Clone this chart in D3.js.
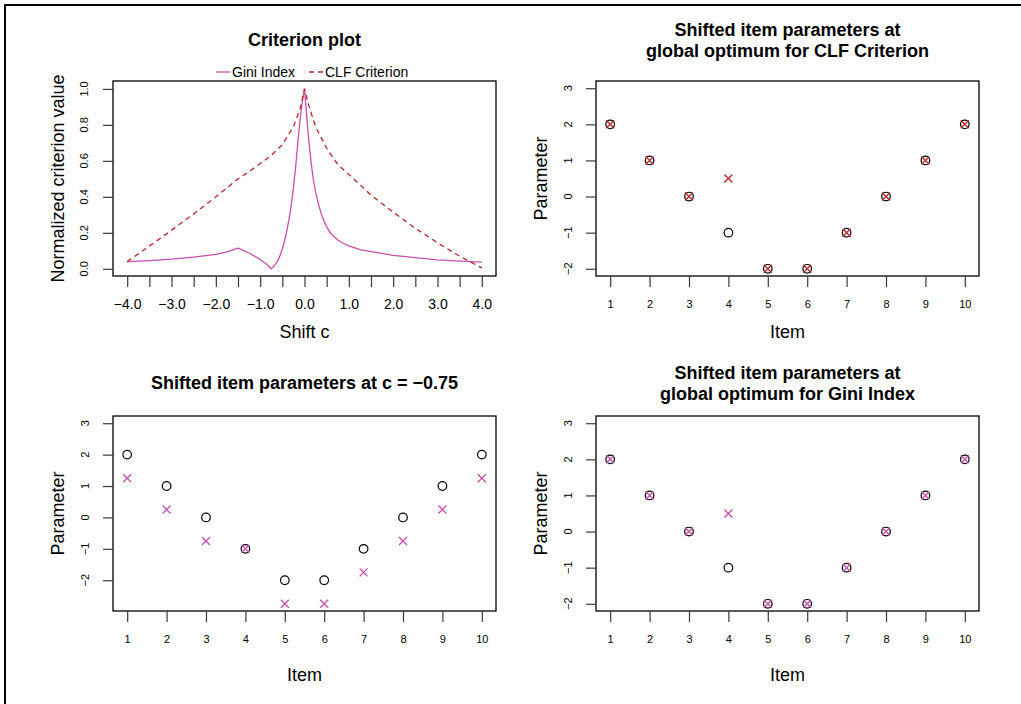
<!DOCTYPE html>
<html><head><meta charset="utf-8">
<script src="https://cdn.jsdelivr.net/npm/d3@7"></script>
<style>body{margin:0;background:#fff;} svg{display:block;font-family:"Liberation Sans",Arial,Helvetica,sans-serif;}</style>
</head><body>
<svg id="chart" width="1021" height="704"></svg>
<script>
// ---------- data ----------
const shiftC = [-4, -3.5, -3, -2.5, -2, -1.75, -1.5, -1.25, -1, -0.85, -0.75, -0.7, -0.65, -0.6, -0.55, -0.5, -0.45, -0.4,
                -0.35, -0.3, -0.25, -0.2, -0.15, -0.1, -0.075, -0.05, -0.025, 0,
                0.025, 0.05, 0.075, 0.1, 0.15, 0.2, 0.25, 0.3, 0.35, 0.4, 0.5, 0.6, 0.75, 0.9, 1, 1.25, 1.5, 2, 2.5, 3, 3.5, 4];
const giniValues = [0.040, 0.046, 0.054, 0.065, 0.080, 0.094, 0.115, 0.088, 0.052, 0.025, 0.000, 0.012, 0.027, 0.045, 0.075, 0.110, 0.155, 0.210,
                    0.275, 0.350, 0.450, 0.565, 0.705, 0.830, 0.880, 0.925, 0.965, 1.000,
                    0.925, 0.850, 0.775, 0.705, 0.590, 0.495, 0.428, 0.373, 0.328, 0.290, 0.232, 0.195, 0.160, 0.138, 0.127, 0.107, 0.095, 0.075, 0.062, 0.050, 0.043, 0.037];
const clfC = [-4, -3.5, -3, -2.5, -2, -1.5, -1.25, -1, -0.75, -0.5, -0.25, -0.1, 0, 0.1, 0.25, 0.5, 0.75, 1, 1.5, 2, 2.5, 3, 3.5, 4];
const clfValues = [0.040, 0.126, 0.215, 0.305, 0.400, 0.500, 0.540, 0.585, 0.630, 0.690, 0.790, 0.890, 1.000,
                   0.905, 0.790, 0.670, 0.580, 0.525, 0.410, 0.315, 0.225, 0.145, 0.070, 0.005];
const critTicks = [-4, -3.5, -3, -2.5, -2, -1.5, -1, -0.5, 0, 0.5, 1, 1.5, 2, 2.5, 3, 3.5, 4];
const critTickLabels = ["−4.0", "", "−3.0", "", "−2.0", "", "−1.0", "", "0.0", "", "1.0", "", "2.0", "", "3.0", "", "4.0"];
const critYTicks = [0, 0.2, 0.4, 0.6, 0.8, 1.0];
const critYLabels = ["0.0", "0.2", "0.4", "0.6", "0.8", "1.0"];

const items = [1, 2, 3, 4, 5, 6, 7, 8, 9, 10];
const originalParams = [2, 1, 0, -1, -2, -2, -1, 0, 1, 2];
const clfShifted = [2, 1, 0, 0.5, -2, -2, -1, 0, 1, 2];
const giniShifted = [2, 1, 0, 0.5, -2, -2, -1, 0, 1, 2];
const shiftedM075 = [1.25, 0.25, -0.75, -1, -2.75, -2.75, -1.75, -0.75, 0.25, 1.25];
const paramTicks = [-2, -1, 0, 1, 2, 3];
const paramTickLabels = ["−2", "−1", "0", "1", "2", "3"];

const legendLabels = ["Gini Index", "CLF Criterion"];
const titles = {
  crit: ["Criterion plot"],
  clf: ["Shifted item parameters at", "global optimum for CLF Criterion"],
  m075: ["Shifted item parameters at c = −0.75"],
  gini: ["Shifted item parameters at", "global optimum for Gini Index"]
};

// ---------- styles ----------
const MAGENTA = "#C64FAC";
const RED = "#B8262A";
const TICK = "#3a3a3a";

const svg = d3.select("#chart");
// outer frame
svg.append("rect").attr("x", 5).attr("y", 5).attr("width", 1030).attr("height", 720)
  .attr("fill", "none").attr("stroke", "#000").attr("stroke-width", 2);

function panel(box, xDom, yDom) {
  const x = d3.scaleLinear().domain(xDom).range([box.x0, box.x1]);
  const y = d3.scaleLinear().domain(yDom).range([box.y1, box.y0]);
  return {box, x, y};
}

function drawFrame(p) {
  svg.append("rect").attr("x", p.box.x0).attr("y", p.box.y0)
    .attr("width", p.box.x1 - p.box.x0).attr("height", p.box.y1 - p.box.y0)
    .attr("fill", "none").attr("stroke", "#000").attr("stroke-width", 1.3);
}

function drawXAxis(p, ticks, labels, fontSize, labelOffset) {
  const ax = d3.axisBottom(p.x).tickValues(ticks).tickSize(11).tickSizeOuter(0)
    .tickFormat((d, i) => labels[i]).tickPadding(labelOffset);
  const g = svg.append("g").attr("transform", `translate(0,${p.box.y1})`).call(ax);
  g.select(".domain").remove();
  g.selectAll(".tick line").attr("stroke", TICK).attr("stroke-width", 1.2);
  g.selectAll(".tick text").attr("font-size", fontSize).attr("fill", "#000")
    .attr("font-family", '"Liberation Sans",Arial,sans-serif');
}

function drawYAxis(p, ticks, labels, fontSize, labelX) {
  const ax = d3.axisLeft(p.y).tickValues(ticks).tickSize(10).tickSizeOuter(0).tickFormat(() => "");
  const g = svg.append("g").attr("transform", `translate(${p.box.x0},0)`).call(ax);
  g.select(".domain").remove();
  g.selectAll(".tick line").attr("stroke", TICK).attr("stroke-width", 1.2);
  ticks.forEach((t, i) => {
    svg.append("text").attr("transform", `translate(${labelX},${p.y(t)}) rotate(-90)`)
      .attr("text-anchor", "middle").attr("dominant-baseline", "central")
      .attr("font-size", fontSize).text(labels[i]);
  });
}

function drawTitle(p, lines, baselines) {
  const cx = (p.box.x0 + p.box.x1) / 2;
  lines.forEach((l, i) => {
    svg.append("text").attr("x", cx).attr("y", baselines[i]).attr("text-anchor", "middle")
      .attr("font-size", 18).attr("font-weight", "bold").text(l);
  });
}

function drawLabels(p, xl, xlY, yl, ylX) {
  const cx = (p.box.x0 + p.box.x1) / 2;
  const cy = (p.box.y0 + p.box.y1) / 2;
  svg.append("text").attr("x", cx).attr("y", xlY).attr("text-anchor", "middle").attr("font-size", 18).text(xl);
  svg.append("text").attr("transform", `translate(${ylX},${cy}) rotate(-90)`)
    .attr("text-anchor", "middle").attr("dominant-baseline", "central").attr("font-size", 18).text(yl);
}

function drawCircles(p, xs, ys) {
  svg.append("g").selectAll("circle").data(xs).join("circle")
    .attr("cx", (d) => p.x(d)).attr("cy", (d, i) => p.y(ys[i])).attr("r", 4.3)
    .attr("fill", "none").attr("stroke", "#000").attr("stroke-width", 1.2);
}

function drawCrosses(p, xs, ys, color) {
  const s = 4;
  svg.append("g").selectAll("path").data(xs).join("path")
    .attr("d", (d, i) => {
      const cx = p.x(d), cy = p.y(ys[i]);
      return `M${cx - s},${cy - s}L${cx + s},${cy + s}M${cx - s},${cy + s}L${cx + s},${cy - s}`;
    })
    .attr("fill", "none").attr("stroke", color).attr("stroke-width", 1.3);
}

// ---------- panel 1: criterion plot ----------
const p1 = panel({x0: 113, x1: 496, y0: 81, y1: 276}, [-4.32, 4.32], [-0.04, 1.044]);
const line1 = d3.line().x((d) => p1.x(d[0])).y((d) => p1.y(d[1]));
svg.append("path").datum(shiftC.map((c, i) => [c, giniValues[i]])).attr("d", line1)
  .attr("fill", "none").attr("stroke", MAGENTA).attr("stroke-width", 1.3).attr("stroke-linejoin", "round");
svg.append("path").datum(clfC.map((c, i) => [c, clfValues[i]])).attr("d", line1)
  .attr("fill", "none").attr("stroke", RED).attr("stroke-width", 1.3).attr("stroke-dasharray", "5,4");
drawFrame(p1);
drawXAxis(p1, critTicks, critTickLabels, 14, 12);
drawYAxis(p1, critYTicks, critYLabels, 11, 84);
drawTitle(p1, titles.crit, [46]);
drawLabels(p1, "Shift c", 338, "Normalized criterion value", 58);
// legend
const legend = svg.append("g");
legend.append("line").attr("x1", 216).attr("x2", 230).attr("y1", 72).attr("y2", 72)
  .attr("stroke", MAGENTA).attr("stroke-width", 1.3);
legend.append("text").attr("x", 232).attr("y", 77).attr("font-size", 14).text(legendLabels[0]);
legend.append("line").attr("x1", 309).attr("x2", 323).attr("y1", 72).attr("y2", 72)
  .attr("stroke", RED).attr("stroke-width", 1.3).attr("stroke-dasharray", "5,4");
legend.append("text").attr("x", 325).attr("y", 77).attr("font-size", 14).text(legendLabels[1]);

// ---------- panel 2: CLF optimum ----------
const p2 = panel({x0: 596, x1: 979, y0: 81, y1: 276}, [0.64, 10.36], [-2.2, 3.2]);
drawCircles(p2, items, originalParams);
drawCrosses(p2, items, clfShifted, RED);
drawFrame(p2);
drawXAxis(p2, items, items.map(String), 11, 13);
drawYAxis(p2, paramTicks, paramTickLabels, 11, 568);
drawTitle(p2, titles.clf, [36, 57]);
drawLabels(p2, "Item", 338, "Parameter", 541);

// ---------- panel 3: c = -0.75 ----------
const p3 = panel({x0: 113, x1: 496, y0: 416, y1: 611}, [0.64, 10.36], [-2.98, 3.23]);
drawCircles(p3, items, originalParams);
drawCrosses(p3, items, shiftedM075, MAGENTA);
drawFrame(p3);
drawXAxis(p3, items, items.map(String), 11, 13);
drawYAxis(p3, paramTicks, paramTickLabels, 11, 85);
drawTitle(p3, titles.m075, [389]);
drawLabels(p3, "Item", 681, "Parameter", 58);

// ---------- panel 4: Gini optimum ----------
const p4 = panel({x0: 596, x1: 979, y0: 416, y1: 611}, [0.64, 10.36], [-2.2, 3.2]);
drawCircles(p4, items, originalParams);
drawCrosses(p4, items, giniShifted, MAGENTA);
drawFrame(p4);
drawXAxis(p4, items, items.map(String), 11, 13);
drawYAxis(p4, paramTicks, paramTickLabels, 11, 568);
drawTitle(p4, titles.gini, [379, 400]);
drawLabels(p4, "Item", 681, "Parameter", 541);
</script>
</body></html>
